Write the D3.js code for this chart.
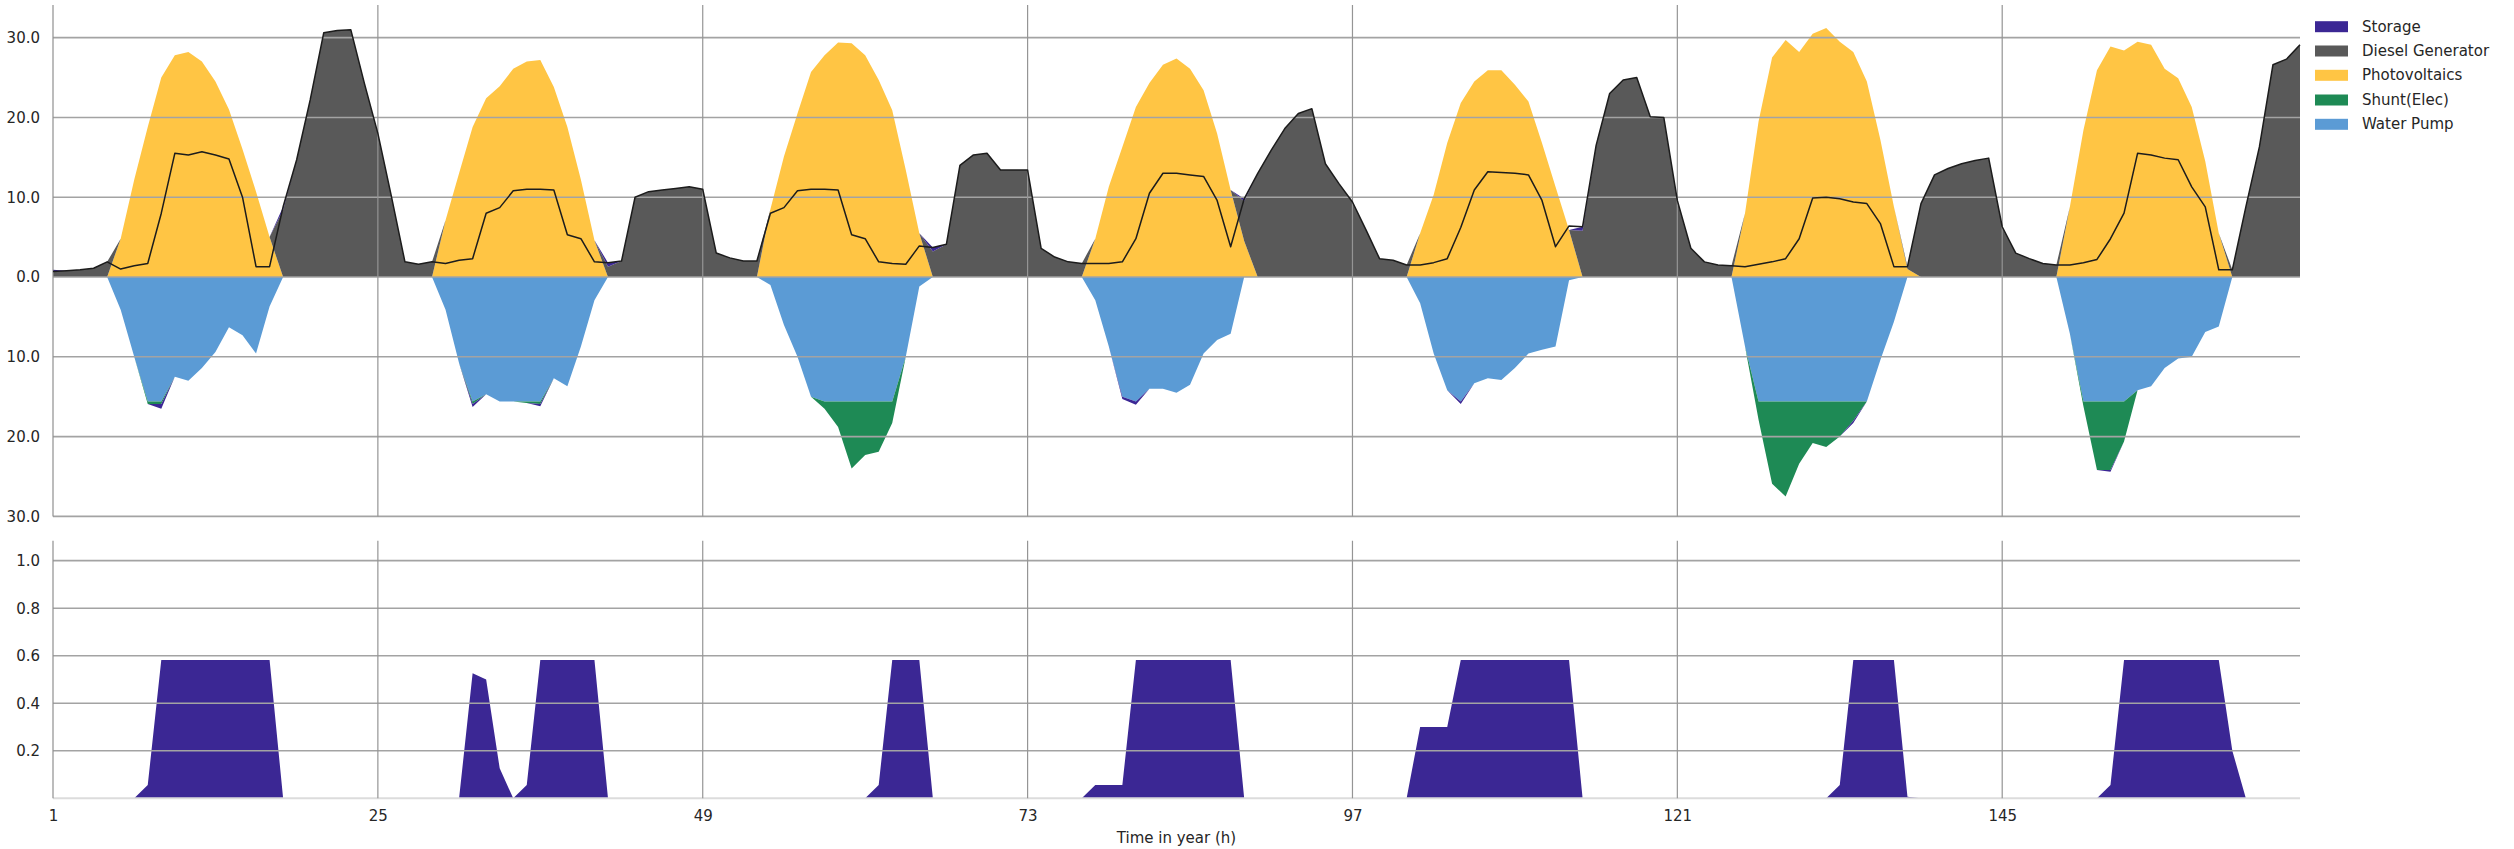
<!DOCTYPE html>
<html><head><meta charset="utf-8">
<script src="https://cdn.jsdelivr.net/npm/d3@7"></script>
<style>
body{margin:0;background:#fff}
text{font-family:"DejaVu Sans",sans-serif}
</style>
</head><body>
<svg id="c" width="2514" height="849"></svg>
<script>
// ---------- DATA (hours 1..167) ----------
const hours = d3.range(1, 168);

const photovoltaics = [
  0,0,0,0,0,4.8,12.2,18.8,25.0,27.8,28.2,27.0,24.5,21.0,16.0,10.7,5.0,0,0,0,0,0,0,0,
  0,0,0,0,0,7.1,13.0,18.8,22.4,23.9,26.1,27.0,27.2,23.8,18.8,12.2,4.6,0,0,0,0,0,0,0,
  0,0,0,0,0,8.5,15.1,20.5,25.7,27.8,29.4,29.3,27.8,24.7,20.9,13.4,5.5,0,0,0,0,0,0,0,
  0,0,0,0,0,4.8,11.3,16.3,21.3,24.3,26.6,27.4,26.1,23.4,18.0,10.9,4.5,0,0,0,0,0,0,0,
  0,0,0,0,0,5.5,10.3,16.8,21.8,24.5,25.9,25.9,24.1,22.0,16.8,11.3,5.9,0,0,0,0,0,0,0,
  0,0,0,0,0,8.0,19.5,27.5,29.7,28.2,30.5,31.2,29.5,28.2,24.5,17.2,8.8,1.0,0,0,0,0,0,0,
  0,0,0,0,0,8.8,18.4,25.9,28.9,28.4,29.5,29.1,26.1,24.9,21.3,14.5,5.5,0,0,0,0,0,0
];

const dieselGenerator = [
  0.7,0.8,0.9,1.1,1.9,0,0,0,0,0,0,0,0,0,0,0,0,8.4,14.7,22.2,30.6,30.9,31.0,24.3,
  18.0,10.1,1.9,1.6,1.9,0,0,0,0,0,0,0,0,0,0,0,0,1.3,2.0,10.0,10.7,10.9,11.1,11.3,
  11.0,3.0,2.4,2.0,2.0,0,0,0,0,0,0,0,0,0,0,0,0,3.2,4.1,14.0,15.3,15.5,13.4,13.4,
  13.4,3.6,2.5,1.9,1.7,0,0,0,0,0,0,0,0,0,0,0,5.0,13.0,15.9,18.6,20.5,21.1,14.2,11.7,
  9.4,5.9,2.3,2.1,1.5,0,0,0,0,0,0,0,0,0,0,0,0,5.8,16.5,23.0,24.7,25.0,20.1,20.0,
  9.6,3.6,1.9,1.5,1.4,0,0,0,0,0,0,0,0,0,0,0,0,0.3,9.2,12.8,13.6,14.2,14.6,14.9,
  6.3,3.0,2.3,1.7,1.5,0,0,0,0,0,0,0,0,0,0,0,0,0.9,8.8,16.3,26.6,27.3,29.1
];

// storage power flow: + discharge, - charge
const storageFlow = [
  0.2,0,0,0,0,0,0,0,-0.6,0,0,0,0,0,0,0,0,0.4,0,0,0,0,0,0,
  0,0,0,0,0,0,0,-0.4,0,0,0,0,-0.3,0,0,0,0,0.5,0,0,0,0,0,0,
  0,0,0,0,0,0,0,0,0,0,0,0,0,0,0,0,0,0.5,0,0,0,0,0,0,
  0,0,0,0,0,0,0,-0.3,-0.4,0,0,0,0,0,0,0,0.3,0,0,0,0,0,0,0,
  0,0,0,0,0,0,0,0,-0.3,0,0,0,0,0,0,0,0,0.5,0,0,0,0,0,0,
  0,0,0,0,0,0,0,0,0,0,0,0,0,-0.3,0,0,0,0,0,0,0,0,0,0,
  0,0,0,0,0,0,0,0,-0.2,0,0,0,0,0,0,0,0,0,0,0,0,0,0
];

// consumption (shown below zero)
const waterPump = [
  0,0,0,0,0,4.1,10.0,15.6,15.6,12.5,13.0,11.4,9.4,6.3,7.3,9.6,3.7,0,0,0,0,0,0,0,
  0,0,0,0,0,4.1,10.8,15.6,14.7,15.6,15.6,15.6,15.6,12.7,13.7,8.7,2.9,0,0,0,0,0,0,0,
  0,0,0,0,0,1.0,6.0,10.0,15.0,15.6,15.6,15.6,15.6,15.6,15.6,10.0,1.2,0,0,0,0,0,0,0,
  0,0,0,0,0,2.9,8.7,15.0,15.6,14.0,14.0,14.5,13.5,9.6,7.9,7.1,0,0,0,0,0,0,0,0,
  0,0,0,0,0,3.3,9.6,14.2,15.6,13.3,12.7,12.9,11.4,9.6,9.1,8.7,0.4,0,0,0,0,0,0,0,
  0,0,0,0,0,8.7,15.6,15.6,15.6,15.6,15.6,15.6,15.6,15.6,15.6,10.4,5.6,0,0,0,0,0,0,0,
  0,0,0,0,0,7.1,15.6,15.6,15.6,15.6,14.2,13.7,11.4,10.2,10.0,6.9,6.2,0,0,0,0,0,0
];

const shuntElec = [
  0,0,0,0,0,0,0,0.3,0.3,0,0,0,0,0,0,0,0,0,0,0,0,0,0,0,
  0,0,0,0,0,0,0,0.3,0,0,0,0.2,0.3,0,0,0,0,0,0,0,0,0,0,0,
  0,0,0,0,0,0,0,0,0,0.9,3.2,8.4,6.7,6.3,2.7,0,0,0,0,0,0,0,0,0,
  0,0,0,0,0,0,0,0,0,0,0,0,0,0,0,0,0,0,0,0,0,0,0,0,
  0,0,0,0,0,0,0,0,0,0,0,0,0,0,0,0,0,0,0,0,0,0,0,0,
  0,0,0,0,0,0,2.3,10.3,11.9,7.8,5.2,5.7,4.4,2.4,0,0,0,0,0,0,0,0,0,0,
  0,0,0,0,0,0,0.6,8.6,8.6,5.0,0,0,0,0,0,0,0,0,0,0,0,0,0
];

const load = [
  0.7,0.8,0.9,1.1,1.9,1.0,1.4,1.7,8.0,15.5,15.3,15.7,15.3,14.8,10.0,1.3,1.3,8.8,14.7,22.2,30.6,30.9,31.0,24.3,
  18.0,10.1,1.9,1.6,1.9,1.7,2.1,2.3,8.0,8.7,10.8,11.0,11.0,10.9,5.3,4.8,1.9,1.8,2.0,10.0,10.7,10.9,11.1,11.3,
  11.0,3.0,2.4,2.0,2.0,8.0,8.7,10.8,11.0,11.0,10.9,5.3,4.8,1.9,1.7,1.6,3.9,3.7,4.1,14.0,15.3,15.5,13.4,13.4,
  13.4,3.6,2.5,1.9,1.7,1.7,1.7,1.9,4.8,10.5,13.0,13.0,12.8,12.6,9.6,3.8,9.8,13.0,15.9,18.6,20.5,21.1,14.2,11.7,
  9.4,5.9,2.3,2.1,1.5,1.5,1.8,2.3,6.2,10.9,13.2,13.1,13.0,12.8,9.6,3.8,6.4,6.3,16.5,23.0,24.7,25.0,20.1,20.0,
  9.6,3.6,1.9,1.5,1.4,1.3,1.6,1.9,2.3,4.8,9.9,10.0,9.8,9.4,9.2,6.7,1.3,1.3,9.2,12.8,13.6,14.2,14.6,14.9,
  6.3,3.0,2.3,1.7,1.5,1.5,1.8,2.2,4.8,8.0,15.5,15.3,14.9,14.7,11.3,8.8,0.9,0.9,8.8,16.3,26.6,27.3,29.1
];

const stateOfCharge = [
  0,0,0,0,0,0,0,0.056,0.582,0.582,0.582,0.582,0.582,0.582,0.582,0.582,0.582,0,0,0,0,0,0,0,
  0,0,0,0,0,0,0,0.526,0.50,0.126,0,0.056,0.582,0.582,0.582,0.582,0.582,0,0,0,0,0,0,0,
  0,0,0,0,0,0,0,0,0,0,0,0,0,0.056,0.582,0.582,0.582,0,0,0,0,0,0,0,
  0,0,0,0,0,0.056,0.056,0.056,0.582,0.582,0.582,0.582,0.582,0.582,0.582,0.582,0,0,0,0,0,0,0,0,
  0,0,0,0,0,0.30,0.30,0.30,0.582,0.582,0.582,0.582,0.582,0.582,0.582,0.582,0.582,0,0,0,0,0,0,0,
  0,0,0,0,0,0,0,0,0,0,0,0,0.056,0.582,0.582,0.582,0.582,0.007,0,0,0,0,0,0,
  0,0,0,0,0,0,0,0,0.056,0.582,0.582,0.582,0.582,0.582,0.582,0.582,0.582,0.20,0,0,0,0,0
];

const xTicks = [1, 25, 49, 73, 97, 121, 145];
const yTopTicks = [-30, -20, -10, 0, 10, 20, 30];
const yBotTicks = [0.2, 0.4, 0.6, 0.8, 1.0];
const legendLabels = ["Storage", "Diesel Generator", "Photovoltaics", "Shunt(Elec)", "Water Pump"];
const legendColors = ["#3b2794", "#595959", "#ffc544", "#1e8a55", "#5b9bd5"];
const xLabel = "Time in year (h)";

// ---------- LAYOUT ----------
const svg = d3.select("#c");
const L = 53, R = 2300;
const x = d3.scaleLinear().domain([1, 167]).range([L, R]);
const yTop = d3.scaleLinear().domain([-30, 34.09]).range([516.4, 5]);
const yBot = d3.scaleLinear().domain([0, 1.084]).range([798.3, 540.7]);

const color = {
  storage: legendColors[0], diesel: legendColors[1], pv: legendColors[2],
  shunt: legendColors[3], pump: legendColors[4]
};

const rows = hours.map((h, i) => ({
  hour: h,
  pv: photovoltaics[i],
  diesel: dieselGenerator[i],
  stOut: Math.max(storageFlow[i], 0),
  pump: -waterPump[i],
  shunt: -shuntElec[i],
  stIn: Math.min(storageFlow[i], 0),
  load: load[i],
  soc: stateOfCharge[i]
}));

const posStack = d3.stack().keys(["pv", "diesel", "stOut"])(rows);
const negStack = d3.stack().keys(["pump", "shunt", "stIn"])(rows);
const keyColor = {pv: color.pv, diesel: color.diesel, stOut: color.storage,
                  pump: color.pump, shunt: color.shunt, stIn: color.storage};

const area = d3.area()
  .x(d => x(d.data.hour))
  .y0(d => yTop(d[0]))
  .y1(d => yTop(d[1]));

const gAreas = svg.append("g");
gAreas.selectAll("path.pos").data(posStack).join("path")
  .attr("d", area).attr("fill", d => keyColor[d.key]);
gAreas.selectAll("path.neg").data(negStack).join("path")
  .attr("d", area).attr("fill", d => keyColor[d.key]);

// bottom panel area (state of charge)
svg.append("path")
  .datum(rows)
  .attr("d", d3.area().x(d => x(d.hour)).y0(yBot(0)).y1(d => yBot(d.soc)))
  .attr("fill", color.storage);

// ---------- GRID ----------
const grid = svg.append("g");
// horizontal
grid.selectAll("line.ht").data(yTopTicks).join("line")
  .attr("x1", L).attr("x2", R)
  .attr("y1", d => yTop(d)).attr("y2", d => yTop(d))
  .attr("stroke", "#a3a3a3").attr("stroke-width", 1.6);
grid.selectAll("line.hb").data(yBotTicks).join("line")
  .attr("x1", L).attr("x2", R)
  .attr("y1", d => yBot(d)).attr("y2", d => yBot(d))
  .attr("stroke", "#a3a3a3").attr("stroke-width", 1.6);
// bottom baseline
grid.append("line").attr("x1", L).attr("x2", R)
  .attr("y1", yBot(0)).attr("y2", yBot(0))
  .attr("stroke", "#dcdcdc").attr("stroke-width", 2);
// vertical
const vt = xTicks.filter(t => t !== 1);
grid.selectAll("line.vt").data(vt).join("line")
  .attr("x1", d => x(d)).attr("x2", d => x(d))
  .attr("y1", yTop.range()[1]).attr("y2", yTop.range()[0])
  .attr("stroke", "#959595").attr("stroke-width", 1.2);
grid.selectAll("line.vb").data(vt).join("line")
  .attr("x1", d => x(d)).attr("x2", d => x(d))
  .attr("y1", yBot.range()[1]).attr("y2", yBot.range()[0])
  .attr("stroke", "#959595").attr("stroke-width", 1.2);
// left spines
grid.append("line").attr("x1", L).attr("x2", L)
  .attr("y1", yTop.range()[1]).attr("y2", yTop.range()[0])
  .attr("stroke", "#8f8f8f").attr("stroke-width", 1.2);
grid.append("line").attr("x1", L).attr("x2", L)
  .attr("y1", yBot.range()[1]).attr("y2", yBot.range()[0])
  .attr("stroke", "#8f8f8f").attr("stroke-width", 1.2);

// ---------- LOAD LINE ----------
svg.append("path")
  .datum(rows)
  .attr("d", d3.line().x(d => x(d.hour)).y(d => yTop(d.load)))
  .attr("fill", "none").attr("stroke", "#1c1c1c").attr("stroke-width", 1.5)
  .attr("stroke-linejoin", "round");

// ---------- AXES ----------
const yAxT = svg.append("g").attr("transform", `translate(${L},0)`)
  .call(d3.axisLeft(yTop).tickValues(yTopTicks).tickSize(0).tickPadding(13)
    .tickFormat(d => Math.abs(d).toFixed(1)));
const yAxB = svg.append("g").attr("transform", `translate(${L},0)`)
  .call(d3.axisLeft(yBot).tickValues(yBotTicks).tickSize(0).tickPadding(13)
    .tickFormat(d => d.toFixed(1)));
const xAx = svg.append("g").attr("transform", `translate(0,${yBot(0)})`)
  .call(d3.axisBottom(x).tickValues(xTicks).tickSize(0).tickPadding(12)
    .tickFormat(d3.format("d")));
[yAxT, yAxB, xAx].forEach(g => {
  g.select(".domain").remove();
  g.selectAll("text").attr("font-size", 15).attr("fill", "#262626")
    .attr("font-family", "DejaVu Sans");
});

svg.append("text")
  .attr("x", (L + R) / 2).attr("y", 843)
  .attr("text-anchor", "middle").attr("font-size", 15).attr("fill", "#262626")
  .text(xLabel);

// ---------- LEGEND ----------
const leg = svg.append("g");
const legY = [26.7, 51, 75.3, 100, 124.3];
legendLabels.forEach((lab, i) => {
  leg.append("rect").attr("x", 2315).attr("y", legY[i] - 5.5)
    .attr("width", 33).attr("height", 11).attr("fill", legendColors[i]);
  leg.append("text").attr("x", 2362).attr("y", legY[i])
    .attr("dominant-baseline", "central").attr("font-size", 15)
    .attr("fill", "#262626").text(lab);
});
</script>
</body></html>
